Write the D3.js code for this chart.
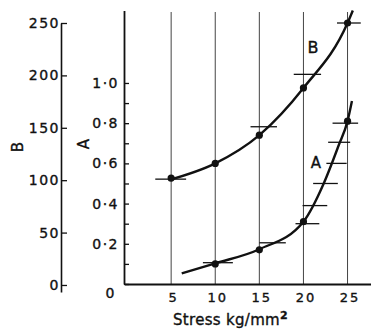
<!DOCTYPE html>
<html>
<head>
<meta charset="utf-8">
<title>Stress chart</title>
<style>
  body { margin: 0; background: #fff; }
  text { font-family: "DejaVu Sans", sans-serif; fill: #111; stroke: #111; stroke-width: 0.35px; }
</style>
</head>
<body>
<script src="https://cdn.jsdelivr.net/npm/d3@7"></script>
<script>
	// values
	var stress = [5, 10, 15, 20, 25];
	var xTicks = [5, 10, 15, 20, 25];
	var bTicks = [0, 50, 100, 150, 200, 250];
	var aTicks = [0, 0.1, 0.2, 0.3, 0.4, 0.5, 0.6, 0.7, 0.8, 0.9, 1.0];

	// B series (left scale B)
	var bPoints = [102, 116, 143, 188, 250];
	// horizontal bars on B: [from stress, to stress, B]
	var bBars = [[3.2, 6.7, 101], [14.0, 17.0, 151], [18.9, 22.0, 201], [23.8, 26.5, 250]];
	// smooth line B
	var bCurveX = [4.7, 10, 15, 20, 25, 25.6];
	var bCurveY = [100, 116, 143, 188, 250, 262];

	// A series (scale A)
	var aPoints = [0.10, 0.17, 0.31, 0.81];
	var aStress = [10, 15, 20, 25];
	var aBars = [[8.6, 12.0, 0.106], [15.0, 18.0, 0.205], [19.1, 21.8, 0.30], [19.9, 22.7, 0.39],
		[21.1, 23.9, 0.50], [22.6, 24.9, 0.60], [22.8, 25.3, 0.705], [23.3, 26.2, 0.80]];
	var aCurveX = [6.2, 10, 15, 20, 22.3, 24.0, 25.0, 25.5];
	var aCurveY = [0.053, 0.103, 0.173, 0.31, 0.50, 0.69, 0.81, 0.91];

	var w = 371, h = 332;
	var svg = d3.select("body").append("svg")
		.attr("width", w)
		.attr("height", h);

	var x = d3.scaleLinear().domain([-0.3, 27.66]).range([124.4, 371]);
	var a = d3.scaleLinear().domain([0, 1.36]).range([284, 10.6]);
	var b = d3.scaleLinear().domain([-6.7, 250]).range([292, 23]);

	// vertical grid
	svg.append("g").selectAll("line")
		.data(xTicks)
		.enter().append("line")
			.attr("x1", function(d) { return x(d); })
			.attr("x2", function(d) { return x(d); })
			.attr("y1", 12)
			.attr("y2", a(0))
			.attr("stroke", "#444")
			.attr("stroke-width", 1);

	// x axis
	var xAxis = svg.append("g")
		.attr("transform", "translate(0," + a(0) + ")")
		.call(d3.axisBottom(x).tickValues(xTicks).tickSize(0).tickPadding(9));
	xAxis.select(".domain").attr("stroke", "#111").attr("stroke-width", 2);
	xAxis.selectAll("text")
		.attr("font-size", 13)
		.attr("letter-spacing", 2)
		.attr("dx", 2)
		.attr("fill", "#111");

	// A axis
	var aAxis = svg.append("g")
		.attr("transform", "translate(124,0)")
		.call(d3.axisLeft(a).tickValues(aTicks).tickSizeInner(-5).tickSizeOuter(0).tickPadding(5)
			.tickFormat(function(d) {
				var k = Math.round(d * 10);
				if (k % 2) return "";
				return k === 0 ? "0" : d3.format(".1f")(d).replace(".", "\u00b7");
			}));
	aAxis.select(".domain").attr("stroke", "#111").attr("stroke-width", 1.8);
	aAxis.selectAll("line").attr("stroke", "#111").attr("stroke-width", 1.3);
	aAxis.selectAll("text")
		.attr("font-size", 14)
		.attr("letter-spacing", 1.5)
		.attr("fill", "#111");
	aAxis.selectAll(".tick").filter(function(d) { return d === 0; }).select("text")
		.attr("x", -8)
		.attr("dy", "0.95em");

	// B axis
	var bAxis = svg.append("g")
		.attr("transform", "translate(61,0)")
		.call(d3.axisLeft(b).tickValues(bTicks).tickSizeInner(-6).tickSizeOuter(0).tickPadding(1));
	bAxis.select(".domain").attr("stroke", "#111").attr("stroke-width", 1.6);
	bAxis.selectAll("line").attr("stroke", "#111").attr("stroke-width", 1.3);
	bAxis.selectAll("text")
		.attr("font-size", 14)
		.attr("letter-spacing", 1.5)
		.attr("fill", "#111");

	// axis titles
	svg.append("text")
		.attr("transform", "translate(18,147) rotate(-90)")
		.attr("text-anchor", "middle")
		.attr("dominant-baseline", "central")
		.attr("font-size", 15)
		.text("B");
	svg.append("text")
		.attr("transform", "translate(84,144) rotate(-90)")
		.attr("text-anchor", "middle")
		.attr("dominant-baseline", "central")
		.attr("font-size", 15)
		.text("A");

	var title = svg.append("text")
		.attr("x", 173)
		.attr("y", 325)
		.attr("font-size", 15)
		.attr("letter-spacing", 0.3);
	title.append("tspan").text("Stress kg/mm");
	title.append("tspan").attr("dy", -6).attr("font-size", 11).attr("font-weight", "bold").text("2");

	// curves
	var lineB = d3.line()
		.x(function(d) { return x(d[0]); })
		.y(function(d) { return b(d[1]); })
		.curve(d3.curveMonotoneX);
	var lineA = d3.line()
		.x(function(d) { return x(d[0]); })
		.y(function(d) { return a(d[1]); })
		.curve(d3.curveMonotoneX);

	svg.append("path")
		.datum(d3.zip(bCurveX, bCurveY))
		.attr("d", lineB)
		.attr("fill", "none")
		.attr("stroke", "#111")
		.attr("stroke-width", 2.4);
	svg.append("path")
		.datum(d3.zip(aCurveX, aCurveY))
		.attr("d", lineA)
		.attr("fill", "none")
		.attr("stroke", "#111")
		.attr("stroke-width", 2.4);

	// bars
	svg.append("g").selectAll("line")
		.data(bBars)
		.enter().append("line")
			.attr("x1", function(d) { return x(d[0]); })
			.attr("x2", function(d) { return x(d[1]); })
			.attr("y1", function(d) { return b(d[2]); })
			.attr("y2", function(d) { return b(d[2]); })
			.attr("stroke", "#111")
			.attr("stroke-width", 1.3);
	svg.append("g").selectAll("line")
		.data(aBars)
		.enter().append("line")
			.attr("x1", function(d) { return x(d[0]); })
			.attr("x2", function(d) { return x(d[1]); })
			.attr("y1", function(d) { return a(d[2]); })
			.attr("y2", function(d) { return a(d[2]); })
			.attr("stroke", "#111")
			.attr("stroke-width", 1.3);

	// points
	svg.append("g").selectAll("circle")
		.data(d3.zip(stress, bPoints))
		.enter().append("circle")
			.attr("cx", function(d) { return x(d[0]); })
			.attr("cy", function(d) { return b(d[1]); })
			.attr("r", 3.6)
			.attr("fill", "#111");
	svg.append("g").selectAll("circle")
		.data(d3.zip(aStress, aPoints))
		.enter().append("circle")
			.attr("cx", function(d) { return x(d[0]); })
			.attr("cy", function(d) { return a(d[1]); })
			.attr("r", 3.6)
			.attr("fill", "#111");

	// curve labels
	svg.append("text")
		.attr("x", 313).attr("y", 47)
		.attr("text-anchor", "middle")
		.attr("dominant-baseline", "central")
		.attr("font-size", 16)
		.text("B");
	svg.append("text")
		.attr("x", 316).attr("y", 163)
		.attr("text-anchor", "middle")
		.attr("dominant-baseline", "central")
		.attr("font-size", 15)
		.text("A");
</script>
</body>
</html>
